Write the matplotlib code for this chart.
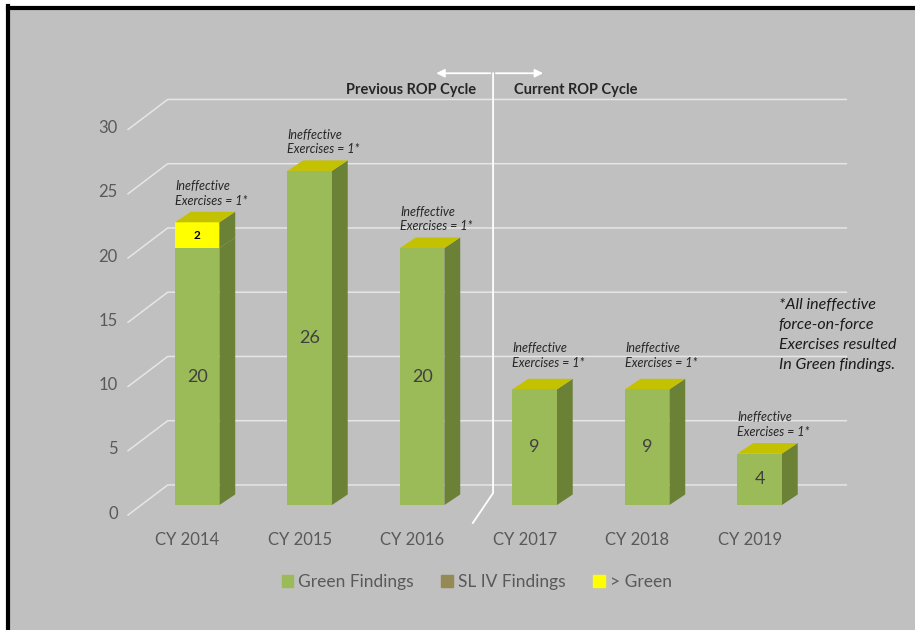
import matplotlib.pyplot as plt
from matplotlib.patches import Polygon, Rectangle, Patch
from matplotlib.lines import Line2D


YEARS = ["CY 2014", "CY 2015", "CY 2016", "CY 2017", "CY 2018", "CY 2019"]
GREEN_FINDINGS = [20, 26, 20, 9, 9, 4]
SL_IV_FINDINGS = [0, 0, 0, 0, 0, 0]
ABOVE_GREEN = [2, 0, 0, 0, 0, 0]
Y_TICKS = [0, 5, 10, 15, 20, 25, 30]
NOTE_TEXT = "Ineffective\nExercises = 1*"
FOOTNOTE = "*All ineffective\nforce-on-force\nExercises resulted\nIn Green findings."
LEFT_CYCLE = "Previous ROP Cycle"
RIGHT_CYCLE = "Current ROP Cycle"

FONT = "Lato"
BG = "#C0C0C0"
GREEN_FRONT = "#9BBB59"
GREEN_SIDE = "#6B8136"
TOP_FACE = "#C4C200"
YELLOW = "#FFFF00"
SL_IV_COLOR = "#948A54"
GRID = "#E6E6E6"
TEXT_GRAY = "#595959"

# 3d look, in data units (x: category, y: value)
BAR_W = 0.396
DX, DY = 0.14, 0.82
GRID_FRONT = (-0.615, -0.78)
GRID_BACK = (-0.262, 1.56)
GRID_RIGHT = 5.77
DIVIDER_X = 2.63
NOTE_LIFT = [0.4, 0.4, 0.4, 0.8, 0.8, 0.4]


def draw_segment(ax, x, bottom, height, front, side, top=None):
    r = x + BAR_W / 2
    ax.bar(x, height, width=BAR_W, bottom=bottom, color=front, zorder=3)
    ax.add_patch(Polygon([(r, bottom), (r + DX, bottom + DY),
                          (r + DX, bottom + height + DY), (r, bottom + height)],
                         closed=True, facecolor=side, edgecolor="none", zorder=3))
    if top:
        t = bottom + height
        ax.add_patch(Polygon([(x - BAR_W / 2, t), (r, t), (r + DX, t + DY),
                              (x - BAR_W / 2 + DX, t + DY)],
                             closed=True, facecolor=top, edgecolor="none", zorder=3))


def main():
    plt.rcParams['font.family'] = [FONT, 'DejaVu Sans']
    fig = plt.figure(figsize=(9.15, 6.3), dpi=100)
    fig.patch.set_facecolor("white")

    # gray panel with a black edge on top and left
    fig.add_artist(Rectangle((6 / 915, 0), 1, 1 - 6 / 630, transform=fig.transFigure,
                             facecolor=BG, edgecolor="none", zorder=0))
    fig.add_artist(Line2D([8 / 915, 1], [1 - 8 / 630] * 2, transform=fig.transFigure,
                          color="black", lw=3, zorder=1))
    fig.add_artist(Line2D([8 / 915] * 2, [0, 1 - 6 / 630], transform=fig.transFigure,
                          color="black", lw=3, zorder=1))

    ax = fig.add_axes([0, 0, 1, 1])
    ax.set_facecolor("none")
    ax.set_xlim(-1.7529, 6.3804)
    ax.set_ylim(-9.7276, 39.2996)
    ax.axis("off")

    # back wall grid lines with their diagonal floor part
    for t in Y_TICKS:
        fx, fy = GRID_FRONT[0], t + GRID_FRONT[1]
        bx, by = GRID_BACK[0], t + GRID_BACK[1]
        ax.plot([fx, bx, GRID_RIGHT], [fy, by, by], color=GRID, lw=1.1, zorder=1)
        ax.text(fx - 0.09, fy + 0.1, str(t), ha="right", va="center",
                fontsize=12, color=TEXT_GRAY)

    x = list(range(len(YEARS)))
    for i in x:
        g = GREEN_FINDINGS[i]
        s = SL_IV_FINDINGS[i]
        y = ABOVE_GREEN[i]
        draw_segment(ax, i, 0, g, GREEN_FRONT, GREEN_SIDE,
                     TOP_FACE if (s == 0 and y == 0) else None)
        if s:
            draw_segment(ax, i, g, s, SL_IV_COLOR, SL_IV_COLOR,
                         TOP_FACE if y == 0 else None)
        if y:
            draw_segment(ax, i, g + s, y, YELLOW, GREEN_SIDE, TOP_FACE)
            ax.text(i, g + s + y / 2, str(y), ha="center", va="center",
                    fontsize=8.5, fontweight="bold", color="black", zorder=5)
        ax.text(i, g / 2, str(g), ha="center", va="center",
                fontsize=13, color="#404040", zorder=5)
        total = g + s + y
        ax.text(i - BAR_W / 2 + 0.0, total + DY + NOTE_LIFT[i], NOTE_TEXT,
                ha="left", va="bottom", fontsize=9, style="italic",
                color="#262626", linespacing=1.25, zorder=5)
        ax.text(i - 0.09, -2.72, YEARS[i], ha="center", va="center",
                fontsize=12, color=TEXT_GRAY)

    # cycle divider
    top_y = 33.6
    ax.plot([DIVIDER_X, DIVIDER_X, DIVIDER_X - 0.18], [top_y, 0.93, -1.4],
            color="white", lw=1.3, zorder=4)
    ax.annotate("", xy=(DIVIDER_X - 0.53, top_y), xytext=(DIVIDER_X, top_y),
                arrowprops=dict(arrowstyle="-|>", color="white", lw=1.3,
                                mutation_scale=12), zorder=4)
    ax.annotate("", xy=(DIVIDER_X + 0.47, top_y), xytext=(DIVIDER_X, top_y),
                arrowprops=dict(arrowstyle="-|>", color="white", lw=1.3,
                                mutation_scale=12), zorder=4)
    ax.text(DIVIDER_X - 0.15, 32.3, LEFT_CYCLE, ha="right", va="center",
            fontsize=10.5, fontweight="bold", color="#262626")
    ax.text(DIVIDER_X + 0.19, 32.3, RIGHT_CYCLE, ha="left", va="center",
            fontsize=10.5, fontweight="bold", color="#262626")

    ax.text(5.17, 13.2, FOOTNOTE, ha="left", va="center", fontsize=11.5,
            style="italic", color="#1a1a1a", linespacing=1.55)

    handles = [Patch(color=GREEN_FRONT, label="Green Findings"),
               Patch(color=SL_IV_COLOR, label="SL IV Findings"),
               Patch(color=YELLOW, label="> Green")]
    leg = fig.legend(handles=handles, loc="center", bbox_to_anchor=(0.521, 1 - 582 / 630),
                     ncol=3, frameon=False, fontsize=12.5, handlelength=0.65,
                     handleheight=0.65, handletextpad=0.3, columnspacing=1.6)
    for txt in leg.get_texts():
        txt.set_color(TEXT_GRAY)

    fig.savefig("out.png", dpi=100, facecolor=fig.get_facecolor())


if __name__ == "__main__":
    main()
